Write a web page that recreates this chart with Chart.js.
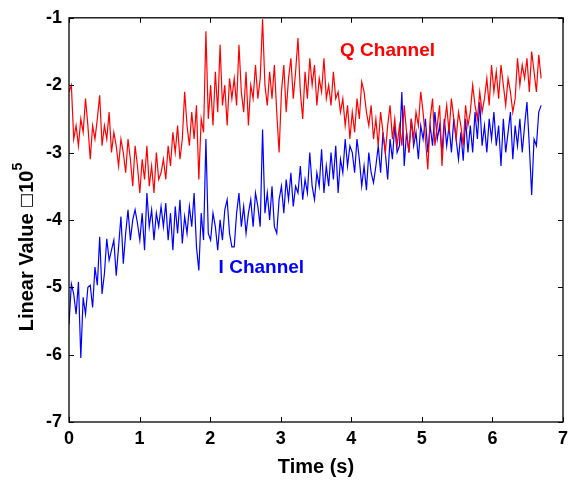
<!DOCTYPE html>
<html><head><meta charset="utf-8">
<script src="https://cdn.jsdelivr.net/npm/chart.js@4"></script>
<style>html,body{margin:0;padding:0;background:#fff;}#wrap{width:574px;height:482px;}</style>
</head><body><div id="wrap"><canvas id="c" width="574" height="482"></canvas></div>
<script>
const duration = 6.69;
const qChannel = [
-2.1,-2.0,-2.8,-2.6,-2.9,-2.5,-2.7,-2.2,-2.6,-3.1,
-2.6,-2.8,-2.5,-2.15,-2.9,-2.6,-2.8,-2.4,-3.0,-2.7,
-2.9,-3.2,-2.8,-3.0,-3.3,-2.8,-3.1,-3.5,-2.9,-3.2,
-3.6,-3.1,-3.4,-2.9,-3.5,-3.2,-3.6,-3.0,-3.4,-3.3,
-3.1,-3.4,-2.9,-3.2,-2.7,-3.0,-2.6,-3.1,-2.8,-2.1,
-2.6,-2.9,-2.4,-2.8,-2.3,-3.4,-2.5,-2.7,-1.2,-2.5,
-2.0,-2.6,-1.8,-2.4,-1.4,-2.3,-2.0,-2.6,-1.9,-2.2,
-1.9,-2.3,-1.4,-2.1,-2.4,-1.8,-2.6,-2.0,-2.2,-1.7,
-2.2,-1.9,-1.02,-2.0,-2.3,-1.8,-2.2,-1.7,-2.4,-3.0,
-2.1,-1.7,-2.4,-1.9,-1.6,-2.2,-1.8,-1.3,-2.1,-2.5,
-1.8,-2.2,-1.6,-2.0,-1.7,-2.3,-1.9,-2.1,-1.6,-2.2,
-2.0,-2.3,-1.8,-2.2,-2.1,-2.4,-2.2,-2.6,-2.3,-2.8,
-2.4,-2.7,-2.2,-2.5,-1.95,-2.1,-2.4,-2.6,-2.3,-2.8,
-2.5,-2.9,-2.4,-2.7,-3.0,-2.6,-2.3,-2.8,-2.5,-2.9,
-2.6,-2.9,-2.3,-2.7,-3.0,-2.5,-2.8,-2.4,-2.6,-2.1,
-2.4,-2.8,-3.25,-2.5,-2.2,-2.9,-2.6,-2.3,-3.2,-2.6,
-2.3,-2.7,-2.2,-2.5,-2.8,-2.4,-2.6,-2.9,-2.3,-2.6,
-2.4,-2.0,-2.3,-2.5,-2.1,-2.4,-2.2,-1.9,-2.3,-1.7,
-2.1,-1.8,-2.2,-1.7,-2.0,-2.3,-1.9,-2.1,-2.4,-2.2,
-1.6,-2.0,-1.7,-1.9,-1.6,-2.1,-1.5,-1.8,-2.1,-1.55,
-1.9];
const iChannel = [
-5.55,-4.95,-5.1,-5.4,-4.92,-6.05,-5.15,-5.4,-5.0,-4.97,
-5.3,-4.7,-4.97,-4.25,-5.1,-4.8,-4.28,-4.6,-4.45,-4.3,
-4.83,-4.4,-3.95,-4.65,-4.2,-3.85,-4.3,-4.0,-3.85,-4.05,
-4.3,-3.9,-4.45,-3.6,-4.1,-3.85,-4.3,-3.9,-4.1,-3.8,
-4.1,-3.75,-4.3,-3.9,-4.45,-3.8,-4.2,-3.7,-4.35,-3.95,
-4.2,-3.8,-4.1,-3.6,-4.4,-4.75,-3.9,-4.3,-2.8,-4.2,
-4.3,-3.9,-4.1,-4.45,-4.0,-4.3,-3.85,-3.7,-4.2,-4.4,
-4.4,-3.9,-3.6,-4.1,-3.8,-4.2,-3.9,-3.7,-4.1,-3.6,
-3.8,-4.1,-2.66,-3.9,-3.6,-4.0,-3.5,-4.1,-4.2,-3.7,
-3.5,-3.9,-3.4,-3.7,-3.3,-3.8,-3.5,-3.6,-3.2,-3.7,
-3.4,-3.6,-3.0,-3.5,-3.7,-3.3,-3.5,-2.95,-3.6,-3.2,
-3.5,-3.0,-3.4,-2.9,-3.6,-3.1,-3.3,-2.8,-3.2,-2.9,
-3.0,-3.3,-2.8,-3.1,-3.5,-3.2,-3.56,-3.0,-3.3,-3.45,
-3.2,-2.9,-3.3,-2.7,-3.0,-3.4,-2.8,-3.1,-2.6,-3.0,
-2.9,-2.1,-3.2,-2.7,-3.0,-2.5,-2.9,-2.7,-3.1,-2.6,
-2.8,-2.5,-3.0,-2.6,-2.9,-2.4,-2.8,-2.6,-3.0,-2.5,
-2.9,-2.6,-3.0,-2.5,-2.8,-3.1,-2.7,-3.12,-2.5,-3.0,
-2.6,-3.0,-2.4,-2.8,-2.25,-2.9,-2.6,-3.0,-2.5,-2.8,
-2.4,-2.9,-2.6,-3.2,-2.5,-3.0,-2.7,-2.4,-3.1,-2.6,
-2.9,-2.5,-3.0,-2.6,-2.25,-2.9,-3.63,-2.8,-2.9,-2.4,
-2.3];
const xTicks = [0,1,2,3,4,5,6,7];
const yTicks = [-7,-6,-5,-4,-3,-2,-1];
const seriesNames = ['Q Channel','I Channel'];
const xTitle = 'Time (s)';
const yTitleParts = ['Linear Value ', '\u25A1', '10', '5'];

const times = qChannel.map((_, i) => i * duration / (qChannel.length - 1));
const toPts = arr => arr.map((v, i) => ({x: times[i], y: v}));

const FONT = '"Liberation Sans", Arial, Helvetica, sans-serif';

const framePlugin = {
  id: 'frame',
  afterDraw(chart) {
    const {ctx, chartArea: a, scales: {x, y}} = chart;
    ctx.save();
    ctx.strokeStyle = '#000';
    ctx.lineWidth = 1.3;
    ctx.strokeRect(a.left, a.top, a.right - a.left, a.bottom - a.top);
    const tl = 5;
    ctx.beginPath();
    xTicks.forEach(v => {
      const px = Math.round(x.getPixelForValue(v)) + 0.5;
      ctx.moveTo(px, a.bottom); ctx.lineTo(px, a.bottom - tl);
      ctx.moveTo(px, a.top); ctx.lineTo(px, a.top + tl);
    });
    yTicks.forEach(v => {
      const py = Math.round(y.getPixelForValue(v)) + 0.5;
      ctx.moveTo(a.left, py); ctx.lineTo(a.left + tl, py);
      ctx.moveTo(a.right, py); ctx.lineTo(a.right - tl, py);
    });
    ctx.lineWidth = 1;
    ctx.stroke();

    // series labels
    ctx.font = 'bold 19px ' + FONT;
    ctx.textBaseline = 'middle';
    ctx.textAlign = 'left';
    ctx.fillStyle = '#ff0000';
    ctx.fillText(seriesNames[0], x.getPixelForValue(3.84), y.getPixelForValue(-1.49));
    ctx.fillStyle = '#0000ff';
    ctx.fillText(seriesNames[1], x.getPixelForValue(2.12), y.getPixelForValue(-4.71));

    // y title
    ctx.translate(27, 247);
    ctx.rotate(-Math.PI / 2);
    ctx.fillStyle = '#000';
    ctx.textBaseline = 'middle';
    ctx.font = 'bold 20px ' + FONT;
    const w1 = ctx.measureText(yTitleParts[0]).width;
    ctx.font = '16px "DejaVu Sans"';
    const w2 = ctx.measureText(yTitleParts[1]).width;
    ctx.font = 'bold 20px ' + FONT;
    const w3 = ctx.measureText(yTitleParts[2]).width;
    ctx.font = 'bold 14px ' + FONT;
    const w4 = ctx.measureText(yTitleParts[3]).width;
    let cx = -(w1 + w2 + w3 + w4) / 2;
    ctx.font = 'bold 20px ' + FONT;
    ctx.fillText(yTitleParts[0], cx, 0); cx += w1;
    ctx.font = '16px "DejaVu Sans"';
    ctx.fillText(yTitleParts[1], cx, 0); cx += w2;
    ctx.font = 'bold 20px ' + FONT;
    ctx.fillText(yTitleParts[2], cx, 0); cx += w3;
    ctx.font = 'bold 14px ' + FONT;
    ctx.fillText(yTitleParts[3], cx, -9);
    ctx.restore();
  }
};

new Chart(document.getElementById('c'), {
  type: 'line',
  data: {
    datasets: [
      {label: seriesNames[0], data: toPts(qChannel), borderColor: '#ff0000', borderWidth: 1.2, pointRadius: 0, tension: 0, fill: false},
      {label: seriesNames[1], data: toPts(iChannel), borderColor: '#0000ff', borderWidth: 1.2, pointRadius: 0, tension: 0, fill: false}
    ]
  },
  options: {
    responsive: false,
    animation: false,
    events: [],
    layout: {padding: {top: 11, right: 5, left: 0, bottom: 0}},
    plugins: {legend: {display: false}, tooltip: {enabled: false}},
    scales: {
      x: {
        type: 'linear', min: 0, max: 7,
        afterBuildTicks: s => { s.ticks = xTicks.map(v => ({value: v})); },
        afterFit: s => { s.height = 60; },
        grid: {display: false, drawTicks: false},
        border: {display: false},
        ticks: {color: '#000', font: {family: FONT, size: 18, weight: 'bold'}, padding: 6, maxRotation: 0},
        title: {display: true, text: xTitle, color: '#000', font: {family: FONT, size: 20, weight: 'bold'}, padding: {top: 0, bottom: 3}}
      },
      y: {
        type: 'linear', min: -7, max: -1,
        afterBuildTicks: s => { s.ticks = yTicks.map(v => ({value: v})); },
        afterFit: s => { s.width = 69; },
        grid: {display: false, drawTicks: false},
        border: {display: false},
        ticks: {color: '#000', font: {family: FONT, size: 18, weight: 'bold'}, padding: 7}
      }
    }
  },
  plugins: [framePlugin]
});
</script>
</body></html>
